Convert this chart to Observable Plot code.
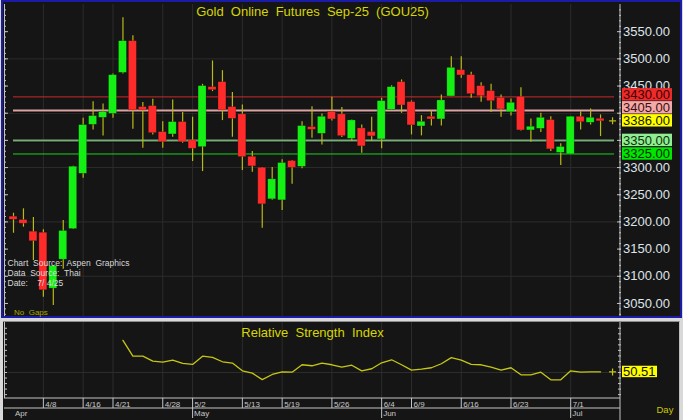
<!DOCTYPE html>
<html>
<head>
<meta charset="utf-8">
<script src="https://cdn.jsdelivr.net/npm/d3@7"></script>
<script src="https://cdn.jsdelivr.net/npm/@observablehq/plot@0.6"></script>
<style>
html, body { margin: 0; padding: 0; background: #d9d9d9; }
#wrap { position: relative; width: 683px; height: 420px; overflow: hidden; background: #d9d9d9; }
#mainBox { position: absolute; left: 1px; top: 0; width: 681px; height: 318px; box-sizing: border-box; border: 2px solid #1b1ba8; background: #151515; }
#rsiBox { position: absolute; left: 3px; top: 321px; width: 677px; height: 99px; box-sizing: border-box; border-top: 1px solid #8c8c8c; border-right: 1px solid #bdbdbd; background: #151515; }
#mainPlot { position: absolute; left: 0; top: 0; }
#rsiPlot { position: absolute; left: 0; top: 320px; }
svg text, svg tspan { white-space: pre; }
</style>
</head>
<body>
<div id="wrap">
  <div id="mainBox"></div>
  <div id="rsiBox"></div>
  <div id="mainPlot"></div>
  <div id="rsiPlot"></div>
</div>
<script>
// ---------------- data ----------------
const dates = ["4/2","4/3","4/4","4/8","4/9","4/10","4/11","4/16","4/17","4/18",
  "4/21","4/22","4/23","4/24","4/25","4/28","4/29","4/30","5/2","5/6",
  "5/7","5/8","5/9","5/13","5/14","5/15","5/16","5/19","5/20","5/21",
  "5/22","5/23","5/26","5/27","5/28","5/29","5/30","6/4","6/5","6/6",
  "6/9","6/10","6/11","6/12","6/13","6/16","6/17","6/18","6/19","6/20",
  "6/23","6/24","6/25","6/26","6/27","6/30","7/1","7/2","7/3","7/4"];
const open = [3208.7,3202.6,3181.1,3179.2,3078.2,3131.5,3187.9,3289.5,3379.6,3392.5,
  3399.8,3475.2,3531.6,3410.3,3412.1,3364.3,3361.9,3382.7,3349.1,3338.6,
  3447.0,3456.2,3410.3,3396.9,3318.9,3298.7,3242.5,3240.6,3311.0,3302.4,
  3373.5,3363.0,3401.6,3396.9,3353.9,3371.1,3364.3,3352.8,3407.2,3456.2,
  3419.5,3376.6,3392.5,3389.5,3431.8,3478.3,3469.1,3448.9,3439.7,3427.4,
  3402.9,3429.2,3369.3,3372.2,3386.4,3328.1,3325.2,3392.5,3383.3,3388.8];
const high = [3216.0,3224.1,3208.1,3185.5,3119.9,3202.6,3302.4,3390.6,3421.3,3417.1,
  3472.2,3575.7,3542.6,3419.5,3425.5,3384.5,3424.4,3401.1,3392.5,3453.1,
  3496.1,3478.3,3437.9,3415.2,3329.4,3300.0,3300.0,3314.2,3312.9,3384.5,
  3412.1,3398.7,3429.2,3410.3,3387.7,3378.5,3392.5,3427.4,3450.7,3461.2,
  3422.6,3395.6,3404.8,3433.6,3504.0,3504.0,3475.2,3456.2,3453.1,3433.6,
  3426.3,3447.0,3389.5,3399.8,3393.7,3343.6,3393.7,3402.9,3407.9,3396.9];
const low = [3179.2,3190.3,3129.1,3061.6,3046.4,3113.1,3186.0,3280.3,3369.3,3358.3,
  3390.6,3472.2,3370.4,3335.5,3360.1,3335.5,3355.7,3344.7,3311.0,3292.6,
  3439.7,3386.4,3355.7,3294.5,3291.4,3188.4,3240.0,3221.0,3269.3,3297.6,
  3353.9,3341.7,3385.8,3355.1,3347.8,3326.3,3347.8,3334.4,3406.1,3399.8,
  3360.1,3358.3,3376.6,3376.6,3430.5,3464.1,3427.4,3420.0,3401.1,3392.5,
  3395.0,3367.5,3346.5,3364.3,3329.4,3303.7,3325.2,3369.3,3378.5,3357.0];
const close = [3205.0,3197.6,3165.3,3075.2,3118.0,3182.4,3300.6,3377.2,3393.7,3401.1,
  3469.1,3531.6,3406.1,3406.1,3364.3,3347.8,3382.7,3347.8,3335.5,3448.9,
  3443.4,3406.1,3390.6,3320.2,3303.1,3233.3,3277.4,3307.4,3300.6,3375.4,
  3370.4,3392.5,3389.5,3358.8,3385.8,3339.9,3358.3,3421.3,3447.0,3415.2,
  3378.5,3383.3,3389.5,3422.6,3482.5,3470.4,3436.0,3432.3,3423.1,3407.9,
  3418.2,3369.3,3374.1,3390.6,3334.4,3336.8,3392.5,3384.5,3390.6,3386.0];
const rsi = [null,null,null,null,null,null,null,null,null,null,
  null,79.1,64.8,64.8,60.3,59.4,61.2,58.2,57.3,64.8,
  63.6,59.7,58.5,51.5,49.4,43.6,48.2,50.6,50.3,57.0,
  56.1,58.5,57.0,54.8,56.6,51.5,53.4,58.8,61.5,57.0,
  52.1,53.0,54.3,57.9,63.4,61.2,57.3,57.0,54.8,52.1,
  54.3,47.9,47.9,50.3,43.4,43.4,51.5,50.3,50.6,50.51];
const dayTicks = ["4/8","4/16","4/21","4/28","5/2","5/13","5/19","5/26","6/4","6/9","6/16","6/23","7/1"];
const monthLabels = ["Apr","May","Jun","Jul"];
const monthStarts = ["4/2","5/2","6/4","7/1"];
const priceTicks = [3050,3100,3150,3200,3250,3300,3350,3400,3450,3500,3550];
const priceGrid = [3100,3200,3300,3400,3500];
const resistance = [3430, 3405];
const support = [3350, 3325];
const rsiTicks = [30,35,40,45,50,55,60,65,70,75,80,85,90];
const rsiGrid = [50];
const title = "Gold  Online  Futures  Sep-25  (GOU25)";
const rsiTitle = "Relative  Strength  Index";
const sourceText = "Chart  Source:  Aspen  Graphics\nData  Source:  Thai\nDate:    7/ 4/25";
const gapsText = "No  Gaps";
const periodText = "Day";

// ---------------- styles / layout ----------------
const FONT = "'Liberation Sans', Arial, sans-serif";
const GRID = "#2c2c2c", AXIS = "#c4c4c4", LABEL = "#dfe4ea";
const YELLOW = "#d6d600", WICK = "#b9b916", RSI_LINE = "#c6c614";
const UP = "#14f014", DOWN = "#ff2b2b";
const resStyle = [{line: "#cf2a2a", width: 1, box: "#ee2a2a", ink: "#3a0000", shadow: false},
                  {line: "#dba4a4", width: 2, box: "#f4a8a8", ink: "#3a1010", shadow: true}];
const supStyle = [{line: "#78ab78", width: 2, box: "#90ee90", ink: "#0e300e", shadow: true},
                  {line: "#1ed21e", width: 1, box: "#00e600", ink: "#002a00", shadow: false}];
const lastStyle = {box: "#ffff00", ink: "#1a1a00"};

const W = 683, FL = 4, FR = 620, X0 = 13, STEP = 9.95;
const n = dates.length;
const xScale = {type: "linear", domain: [0, n - 1], range: [X0, X0 + STEP * (n - 1)], axis: null};
const idxOf = d => dates.indexOf(d);
const dayIdx = dayTicks.map(idxOf);
const months = monthLabels.map((m, k) => ({label: m, i: idxOf(monthStarts[k])}));
const candles = dates.map((d, i) => ({i, o: open[i], h: high[i], l: low[i], c: close[i]}));
const up = candles.filter(d => d.c >= d.o), down = candles.filter(d => d.c < d.o);
const last = candles[n - 1];
const styleBase = {background: "none", overflow: "visible", fontFamily: FONT};

// ---------------- main panel ----------------
const MH = 318, MT = 4, MB = 2;
const yDom = [3026, 3600];
const unitsPerPx = (yDom[1] - yDom[0]) / (MH - MT - MB);
const levelLines = [
  ...resistance.map((v, k) => ({v, ...resStyle[k]})),
  ...support.map((v, k) => ({v, ...supStyle[k]}))
];
// right-side boxed labels, stacked upward to avoid overlap (13px per box)
const boxes = [...levelLines.map(d => ({v: d.v, box: d.box, ink: d.ink})), {v: last.c, ...lastStyle}]
  .sort((a, b) => a.v - b.v);
let prev = -Infinity;
for (const b of boxes) { b.center = Math.max(b.v, prev + 13 * unitsPerPx); prev = b.center; }
// axis labels that sit entirely behind a boxed label are not visible
const visiblePriceLabels = priceTicks.filter(t => !boxes.some(b => Math.abs(b.center - t) < 6.5 * unitsPerPx));
const minorPrice = d3.range(3030, 3600, 10);

const mainMarks = [
  Plot.ruleX(dayIdx, {x: d => d, stroke: GRID}),
  Plot.ruleY(priceGrid, {stroke: GRID}),
];
for (const L of levelLines) {
  if (L.shadow) mainMarks.push(Plot.ruleY([L.v], {x1: 0, x2: n - 1, insetRight: -14, dy: 1.5, stroke: "#000", strokeWidth: 1}));
  mainMarks.push(Plot.ruleY([L.v], {x1: 0, x2: n - 1, insetRight: -14, stroke: L.line, strokeWidth: L.width}));
}
mainMarks.push(
  Plot.ruleX(candles, {x: "i", y1: "l", y2: "h", stroke: WICK, strokeWidth: 1.2}),
  Plot.rect(up, {x1: d => d.i - 0.4, x2: d => d.i + 0.4, y1: "o", y2: "c", insetTop: -0.5, insetBottom: -0.5, fill: UP, stroke: "#0a0a0a", strokeOpacity: 0.35, strokeWidth: 0.6}),
  Plot.rect(down, {x1: d => d.i - 0.4, x2: d => d.i + 0.4, y1: "o", y2: "c", insetTop: -0.5, insetBottom: -0.5, fill: DOWN, stroke: "#0a0a0a", strokeOpacity: 0.35, strokeWidth: 0.6}),
  // axis lines
  Plot.rect([0], {insetRight: FR - FL - 1, fill: AXIS}),
  Plot.rect([0], {insetLeft: FR - FL - 0.5, insetRight: -0.5, fill: AXIS}),
  // ticks
  Plot.axisY({anchor: "left", ticks: minorPrice, tickSize: 2, dx: 2, fill: "none", stroke: AXIS, label: null}),
  Plot.axisY({anchor: "left", ticks: priceTicks, tickSize: 4, dx: 4, fill: "none", stroke: AXIS, label: null}),
  Plot.axisY({anchor: "right", ticks: minorPrice, tickSize: 2, dx: -2, fill: "none", stroke: AXIS, label: null}),
  Plot.axisY({anchor: "right", ticks: priceTicks, tickSize: 4, dx: -4, fill: "none", stroke: AXIS, label: null}),
  Plot.axisY({anchor: "right", ticks: visiblePriceLabels, tickSize: 0, tickPadding: 2.5, tickFormat: d => d.toFixed(2), fill: LABEL, fontSize: 13, label: null}),
);
for (const b of boxes) {
  mainMarks.push(
    Plot.rect([b], {y1: "center", y2: "center", insetTop: -6.2, insetBottom: -6.2, insetLeft: FR - FL + 2, insetRight: -52, fill: b.box}),
    Plot.text([b], {y: "center", frameAnchor: "right", dx: 2.5, textAnchor: "start", text: d => d.v.toFixed(2), fill: b.ink, fontSize: 13})
  );
}
mainMarks.push(
  Plot.dot([last], {x: "i", y: "c", symbol: "plus", r: 2.4, stroke: WICK, strokeWidth: 1.2, dx: 12}),
  Plot.text([title], {frameAnchor: "top", dy: 11, lineAnchor: "bottom", fill: YELLOW, fontSize: 13}),
  Plot.text([sourceText], {frameAnchor: "bottom-left", dx: 3, dy: -30.5, lineAnchor: "bottom", textAnchor: "start", lineHeight: 1.18, fill: "#d8d8d8", fontSize: 8.5}),
  Plot.text([gapsText], {frameAnchor: "bottom-left", dx: 9.5, dy: -1.5, lineAnchor: "bottom", textAnchor: "start", fill: "#a8a800", fontSize: 8})
);

const mainSvg = Plot.plot({
  width: W, height: MH,
  marginLeft: FL, marginRight: W - FR, marginTop: MT, marginBottom: MB,
  x: xScale,
  y: {domain: yDom, axis: null, label: null},
  style: styleBase,
  marks: mainMarks
});
document.getElementById("mainPlot").append(mainSvg);

// ---------------- RSI panel ----------------
const RH = 100, RT = 2, RB = 22, FH = RH - RT - RB;
const rsiData = rsi.map((v, i) => ({i, v}));
const rsiLast = rsiData[n - 1];
const rsiSvg = Plot.plot({
  width: W, height: RH,
  marginLeft: FL, marginRight: W - FR, marginTop: RT, marginBottom: RB,
  x: xScale,
  y: {domain: [26.5, 95.2], axis: null, label: null},
  style: styleBase,
  marks: [
    Plot.ruleX(dayIdx, {x: d => d, stroke: GRID}),
    Plot.ruleY(rsiGrid, {stroke: GRID}),
    Plot.line(rsiData, {x: "i", y: "v", stroke: RSI_LINE, strokeWidth: 1.3}),
    // axis lines and date-row rules
    Plot.rect([0], {insetRight: FR - FL - 1, fill: AXIS}),
    Plot.rect([0], {insetLeft: FR - FL - 0.5, insetRight: -0.5, insetBottom: -RB, fill: AXIS}),
    Plot.rect([0], {insetTop: FH - 0.5, insetBottom: -0.5, fill: AXIS}),
    Plot.rect([0], {insetTop: FH + 9.5, insetBottom: -10.5, fill: AXIS}),
    Plot.ruleX(dayIdx, {x: d => d, insetTop: FH, insetBottom: -10, stroke: AXIS}),
    Plot.ruleX(months.slice(1), {x: "i", insetTop: FH + 10, insetBottom: -20, stroke: AXIS}),
    Plot.text(dayTicks, {x: idxOf, text: d => d, frameAnchor: "bottom", dx: 2, dy: 8.5, lineAnchor: "bottom", textAnchor: "start", fill: "#c8c8c8", fontSize: 8}),
    Plot.text(months, {x: "i", text: "label", frameAnchor: "bottom", dx: 1.5, dy: 17.5, lineAnchor: "bottom", textAnchor: "start", fill: "#c8c8c8", fontSize: 8}),
    // ticks
    Plot.axisY({anchor: "left", ticks: rsiTicks, tickSize: 3, dx: 3, fill: "none", stroke: AXIS, label: null}),
    Plot.axisY({anchor: "right", ticks: rsiTicks, tickSize: 3, dx: -3, fill: "none", stroke: AXIS, label: null}),
    // last value
    Plot.dot([rsiLast], {x: "i", y: "v", symbol: "plus", r: 2.4, stroke: RSI_LINE, strokeWidth: 1.2, dx: 12}),
    Plot.rect([rsiLast], {y1: "v", y2: "v", insetTop: -5.7, insetBottom: -5.7, insetLeft: FR - FL + 2, insetRight: -37, fill: "#ffff00"}),
    Plot.text([rsiLast], {y: "v", frameAnchor: "right", dx: 2.5, textAnchor: "start", text: d => d.v.toFixed(2), fill: "#111", fontSize: 13}),
    Plot.text([rsiTitle], {frameAnchor: "top", dy: 14, lineAnchor: "bottom", fill: YELLOW, fontSize: 13}),
    Plot.text([periodText], {frameAnchor: "bottom-right", dx: 36, dy: 14, lineAnchor: "bottom", textAnchor: "start", fill: "#c8c800", fontSize: 9.5})
  ]
});
document.getElementById("rsiPlot").append(rsiSvg);
</script>
</body>
</html>
